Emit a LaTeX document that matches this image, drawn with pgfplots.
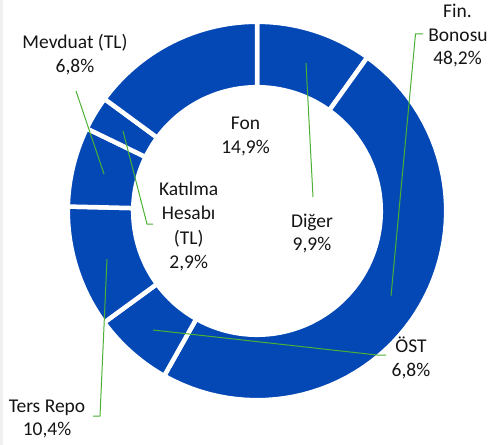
\documentclass[border=0pt]{standalone}
\usepackage{pgfplots}
\pgfplotsset{compat=1.18}
\usepackage{pgfplotstable}
\usepackage{fontspec}
\setmainfont{Carlito}
\definecolor{donut}{RGB}{4,72,181}
\definecolor{lead}{RGB}{76,176,52}
\definecolor{txt}{RGB}{20,20,20}

% shares in %, clockwise from 12 o'clock:
% Diger, Fin. Bonosu, OST, Ters Repo, Mevduat (TL), Katilma Hesabi (TL), Fon
\pgfplotstableread{
share
9.9
48.2
6.8
10.4
6.8
2.9
14.9
}\shares

\newcommand\lbl[3]{\node[anchor=base,font=\fontsize{19.5bp}{24bp}\selectfont,text=txt,inner sep=0pt] at (axis cs:#1,#2) {#3};}

\begin{document}
\begin{tikzpicture}
\begin{axis}[width=489bp,height=445bp,scale only axis,
  xmin=0,xmax=489,ymin=0,ymax=445,y dir=reverse,
  hide axis,clip=false]
\fill[black!6] (axis cs:0,0) rectangle (axis cs:3,445);
\gdef\cum{0}
\pgfplotsinvokeforeach{0,...,6}{
 \pgfplotstablegetelem{#1}{share}\of\shares
 \global\let\va\pgfplotsretval
 \addplot[fill=donut,draw=white,line width=4.5bp,
   samples at={0,1,...,60,100,101,...,160},variable=\t]
  ({257+(\t<80?189.2:123.8)*sin(3.603604*(\t<80?\cum+\va*\t/60:\cum+\va-\va*(\t-100)/60))},
   {211-(\t<80?189.2:123.8)*cos(3.603604*(\t<80?\cum+\va*\t/60:\cum+\va-\va*(\t-100)/60))}) -- cycle;
 \pgfmathsetmacro\tmp{\cum+\va}\global\let\cum\tmp
}
% leader lines
\addplot[lead,line width=1bp,no markers] coordinates {(306,63) (313,197)};
\addplot[lead,line width=1bp,no markers] coordinates {(423,34) (415.5,34) (391,296)};
\addplot[lead,line width=1bp,no markers] coordinates {(153,330) (377,355) (386,355)};
\addplot[lead,line width=1bp,no markers] coordinates {(107,259) (100,416) (93,416)};
\addplot[lead,line width=1bp,no markers] coordinates {(76,91) (104,174)};
\addplot[lead,line width=1bp,no markers] coordinates {(123,131) (147,224) (153,224)};
% labels
\lbl{245.5}{129}{Fon}
\lbl{245.5}{153}{14,9\%}
\lbl{188.7}{195}{Katılma}
\lbl{188.7}{219.5}{Hesabı}
\lbl{188.7}{244}{(TL)}
\lbl{188.7}{268}{2,9\%}
\lbl{312}{227}{Diğer}
\lbl{312}{250.5}{9,9\%}
\lbl{411}{352}{ÖST}
\lbl{411}{376}{6,8\%}
\lbl{457.5}{18}{Fin.}
\lbl{458}{42}{Bonosu}
\lbl{457.5}{65}{48,2\%}
\lbl{75}{49}{Mevduat (TL)}
\lbl{75}{72.5}{6,8\%}
\lbl{47}{412}{Ters Repo}
\lbl{47}{435.5}{10,4\%}
\end{axis}
\pgfresetboundingbox
\path[use as bounding box] (0,0) rectangle (489bp,445bp);
\end{tikzpicture}
\end{document}
